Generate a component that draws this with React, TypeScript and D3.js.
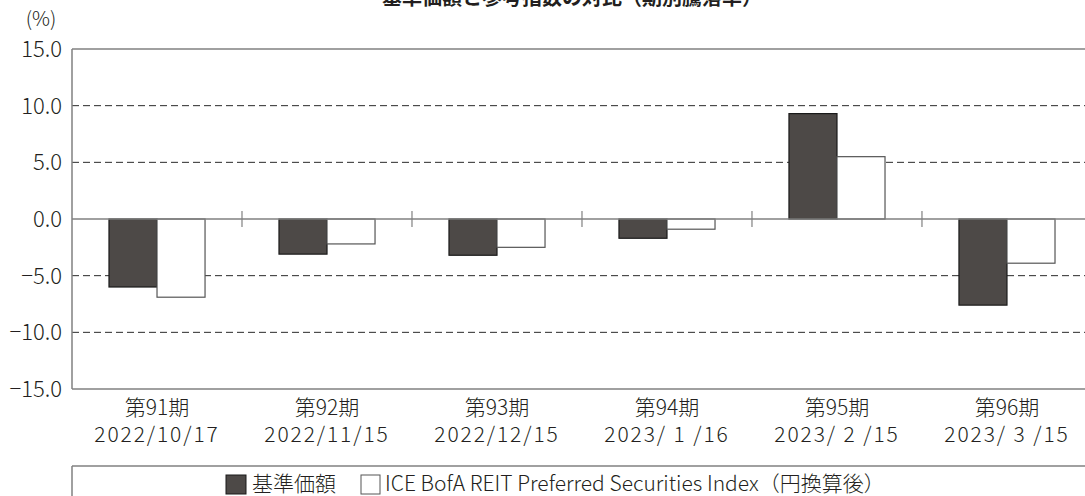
import React from "react";
import * as d3 from "d3";

const periods = ["第91期", "第92期", "第93期", "第94期", "第95期", "第96期"];
const dates = ["2022/10/17", "2022/11/15", "2022/12/15", "2023/ 1 /16", "2023/ 2 /15", "2023/ 3 /15"];
const fundValues = [-6.0, -3.1, -3.2, -1.7, 9.3, -7.6];
const indexValues = [-6.9, -2.2, -2.5, -0.9, 5.5, -3.9];
const yTicks = [15, 10, 5, 0, -5, -10, -15];
const seriesNames = ["基準価額", "ICE BofA REIT Preferred Securities Index（円換算後）"];
const title = "基準価額と参考指数の対比（期別騰落率）";

const FONT = "'Noto Sans CJK JP', 'Noto Sans', sans-serif";
const TEXT = "#231f20";
const AXIS = "#808080";
const DARK = "#4d4947";

export default function App() {
  const W = 1085, H = 496;
  const left = 72, right = 1092, top = 49, bottom = 389;
  const y = d3.scaleLinear().domain([-15, 15]).range([bottom, top]);
  const x = d3.scaleBand<string>().domain(periods).range([left, right]).paddingInner(0.435).paddingOuter(0.2176);
  const step = x.step();
  const bw = x.bandwidth() / 2;
  const fmt = d3.format(".1f");

  return (
    <svg width={W} height={H} style={{ position: "absolute", left: 0, top: 0, background: "#fff" }} fontFamily={FONT} fontWeight={300}>
      <rect x={0} y={0} width={W} height={H} fill="#fff" />
      <text x={572} y={4.5} textAnchor="middle" fontSize={20} fontWeight="bold" fill={TEXT}>{title}</text>
      <text x={41} y={26} textAnchor="middle" fontSize={20} fill={TEXT}>(%)</text>

      {/* gridlines */}
      {yTicks.filter(t => Math.abs(t) !== 15 && t !== 0).map(t => (
        <line key={"g" + t} x1={left} x2={right} y1={y(t)} y2={y(t)} stroke="#2a2a2a" strokeWidth={1} strokeDasharray="7,4" />
      ))}
      {/* frame lines */}
      <line x1={left} x2={right} y1={y(15)} y2={y(15)} stroke={AXIS} strokeWidth={1.5} />
      <line x1={left} x2={right} y1={y(-15)} y2={y(-15)} stroke={AXIS} strokeWidth={1.5} />
      <line x1={left} x2={left} y1={y(15)} y2={y(-15)} stroke={AXIS} strokeWidth={1.5} />

      {/* y tick labels */}
      {yTicks.map(t => (
        <text key={"t" + t} x={62} y={y(t)} dy="0.36em" textAnchor="end" fontSize={22} fill={TEXT}>{fmt(t)}</text>
      ))}

      {/* bars */}
      {periods.map((p, i) => {
        const x0 = x(p)!;
        const v1 = fundValues[i], v2 = indexValues[i];
        return (
          <g key={"b" + p}>
            <rect x={x0} y={y(Math.max(0, v1))} width={bw} height={Math.abs(y(v1) - y(0))} fill={DARK} stroke="#1a1a1a" strokeWidth={1.2} />
            <rect x={x0 + bw} y={y(Math.max(0, v2))} width={bw} height={Math.abs(y(v2) - y(0))} fill="#fff" stroke="#555" strokeWidth={1.2} />
          </g>
        );
      })}

      {/* zero line */}
      <line x1={left} x2={right} y1={y(0)} y2={y(0)} stroke={AXIS} strokeWidth={1.5} />
      {periods.slice(1).map((p, i) => {
        const bx = left + step * (i + 1);
        return <line key={"s" + p} x1={bx} x2={bx} y1={y(0) - 8} y2={y(0) + 8} stroke={AXIS} strokeWidth={1.2} />;
      })}

      {/* x labels */}
      {periods.map((p, i) => {
        const cx = left + step * (i + 0.5);
        return (
          <g key={"x" + p}>
            <text x={cx} y={415} textAnchor="middle" fontSize={21} fill={TEXT}>{p}</text>
            <text x={cx} y={442} textAnchor="middle" fontSize={21} fill={TEXT} letterSpacing={1.9} style={{ whiteSpace: "pre" }}>{dates[i]}</text>
          </g>
        );
      })}

      {/* legend */}
      <line x1={left} x2={1200} y1={466} y2={466} stroke={AXIS} strokeWidth={1.5} />
      <line x1={left} x2={left} y1={466} y2={H + 5} stroke={AXIS} strokeWidth={1.5} />
      <rect x={226} y={475} width={20} height={19} fill={DARK} stroke="#1a1a1a" strokeWidth={1} />
      <text x={252} y={491} fontSize={21} fill={TEXT}>{seriesNames[0]}</text>
      <rect x={361} y={475} width={19} height={19} fill="#fff" stroke="#555" strokeWidth={1} />
      <text x={385} y={491} fontSize={21} fill={TEXT} letterSpacing={0}>{seriesNames[1]}</text>
    </svg>
  );
}
